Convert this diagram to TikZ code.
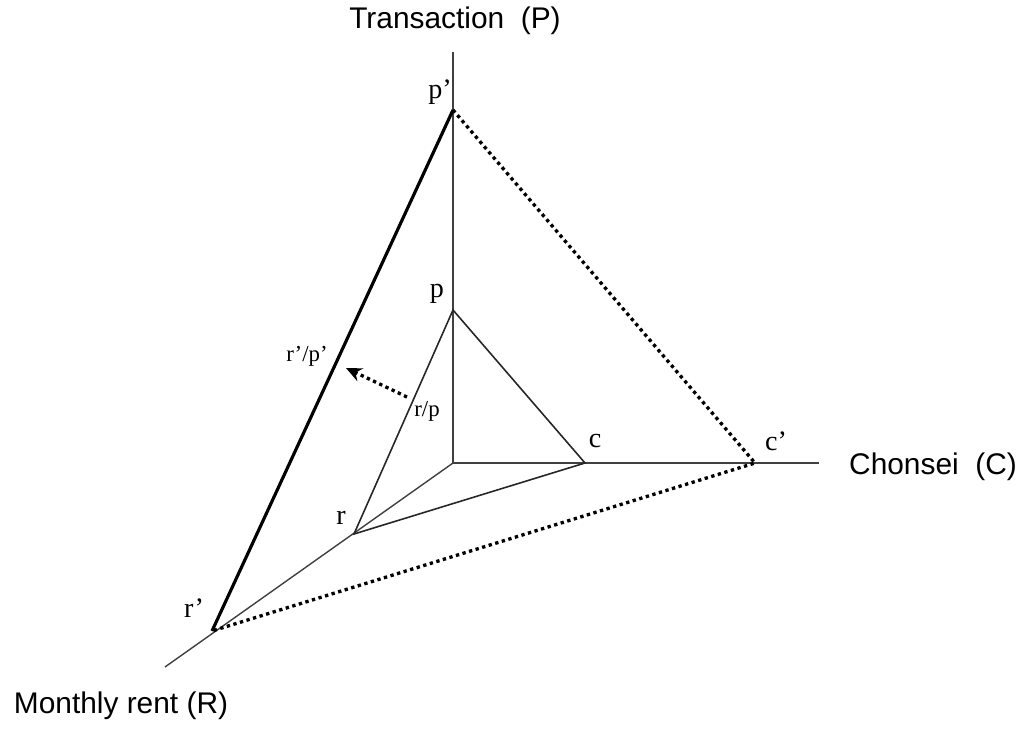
\documentclass[tikz,border=0pt]{standalone}
\usepackage{fontspec}
\setmainfont{Liberation Serif}
\setsansfont{Liberation Sans}
\usetikzlibrary{arrows.meta, positioning}

\begin{document}
\begin{tikzpicture}[x=0.02cm, y=-0.02cm, thick]

	\tikzset{
		axis/.style={
				draw=black!75, line width=0.8pt
			},
		edge/.style={
				draw=black!85, line width=0.9pt
			},
		bold/.style={
				draw=black, line width=1.8pt
			},
		dots/.style={
				draw=black, line width=1.9pt, dotted
			},
		pt/.style={
				font=\fontsize{16}{18}\selectfont, inner sep=1pt
			},
		axlabel/.style={
				font=\sffamily\fontsize{17}{20}\selectfont, inner sep=0pt
			},
	}
	\useasboundingbox (0,0) rectangle (1024,733);

	\coordinate (o) at (453,463);
	\coordinate (pend) at (453,52);
	\coordinate (cend) at (819,463);
	\coordinate (rend) at (165,667);

	\coordinate (p) at (453,310);
	\coordinate (c) at (585,463);
	\coordinate (r) at (354,534);
	\coordinate (p2) at (453,110);
	\coordinate (c2) at (755,463);
	\coordinate (r2) at (212,631);

	% axes
	\draw[axis] (o) -- (pend);
	\draw[axis] (o) -- (cend);
	\draw[axis] (o) -- (rend);

	% inner triangle
	\draw[edge] (p) -- (c) -- (r) -- cycle;

	% outer triangle
	\draw[bold] (r2) -- (p2);
	\draw[dots] (p2) -- (c2) -- (r2);

	% shift
	\coordinate (a1) at (407,397);
	\coordinate (a2) at (346,368);
	\draw[dots, -{Stealth[length=9pt, width=8pt, inset=3pt]}] (a1) -- (a2);

	% labels
	\node[pt] (lp2) at (440,92) {p'};
	\node[pt] (lp) at (437,294) {p};
	\node[pt] (lc) at (595,441) {c};
	\node[pt] (lc2) at (776,441) {c'};
	\node[pt] (lr) at (341,518) {r};
	\node[pt] (lr2) at (194,608) {r'};
	\node[pt, font=\fontsize{13}{15}\selectfont] (lrp2) at (307,356) {r'/p'};
	\node[pt, font=\fontsize{13}{15}\selectfont] (lrp) at (427,411) {r/p};

	\node[axlabel] (tp) at (455,21) {Transaction\ \ (P)};
	\node[axlabel] (tc) at (933,467) {Chonsei\ \ (C)};
	\node[axlabel] (tr) at (121,706) {Monthly rent (R)};

\end{tikzpicture}
\end{document}
